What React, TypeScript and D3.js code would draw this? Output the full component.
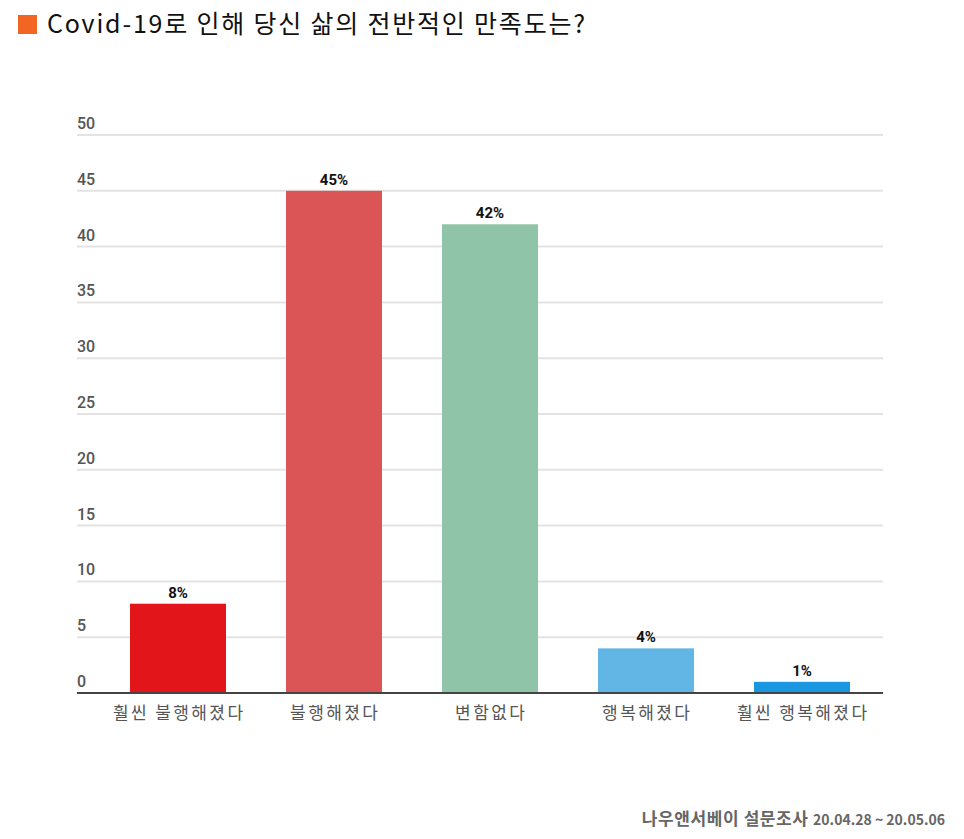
import React from "react";
import * as d3 from "d3";

const categories = ["훨씬 불행해졌다", "불행해졌다", "변함없다", "행복해졌다", "훨씬 행복해졌다"];
const values = [8, 45, 42, 4, 1];
const barColors = ["#e2151a", "#dc5556", "#8fc4a8", "#62b6e5", "#1b96e0"];
const yTicks = [0, 5, 10, 15, 20, 25, 30, 35, 40, 45, 50];

const W = 964;
const H = 839;

export default function App() {
  const x = d3
    .scaleBand<string>()
    .domain(categories)
    .range([100, 880])
    .paddingInner(0.3846)
    .paddingOuter(0.1923);
  const y = d3.scaleLinear().domain([0, 50]).range([693, 135]);
  const font = "Roboto, 'Noto Sans CJK KR', sans-serif";
  const kfont = "'Noto Sans CJK KR', sans-serif";

  return (
    <svg
      width={W}
      height={H}
      style={{ position: "absolute", left: 0, top: 0, background: "#fff" }}
    >
      <rect x={18} y={15} width={19} height={19} fill="#f26522" />
      <text x={47} y={33} fontFamily={kfont} fontSize={25} letterSpacing={1.8} fill="#111">
        Covid-19로 인해 당신 삶의 전반적인 만족도는?
      </text>

      {yTicks.map((t) => (
        <g key={t}>
          {t !== 0 && (
            <line x1={77} x2={883} y1={y(t)} y2={y(t)} stroke="#e3e3e3" strokeWidth={2} />
          )}
          <text
            x={77}
            y={y(t) - 6}
            fontFamily={font}
            fontSize={16}
            fontWeight={500}
            fill="#555"
          >
            {t}
          </text>
        </g>
      ))}

      {categories.map((c, i) => (
        <g key={c}>
          <rect
            x={x(c)}
            y={y(values[i])}
            width={x.bandwidth()}
            height={y(0) - y(values[i])}
            fill={barColors[i]}
          />
          <text
            x={(x(c) as number) + x.bandwidth() / 2}
            y={y(values[i]) - 6}
            textAnchor="middle"
            fontFamily={font}
            fontSize={15}
            fontWeight={700}
            fill="#111"
          >
            {values[i]}%
          </text>
          <text
            x={(x(c) as number) + x.bandwidth() / 2 + 1.2}
            y={719}
            textAnchor="middle"
            fontFamily={kfont}
            fontSize={17}
            fill="#555"
            letterSpacing={2.4}
          >
            {c}
          </text>
        </g>
      ))}

      <line x1={77} x2={883} y1={y(0)} y2={y(0)} stroke="#444" strokeWidth={2} />

      <text
        x={945}
        y={825}
        textAnchor="end"
        fontFamily={kfont}
        fontWeight={700}
        fill="#666"
      >
        <tspan fontSize={17} letterSpacing={0.6}>나우앤서베이 설문조사 </tspan>
        <tspan fontSize={14}>20.04.28 ~ 20.05.06</tspan>
      </text>
    </svg>
  );
}
